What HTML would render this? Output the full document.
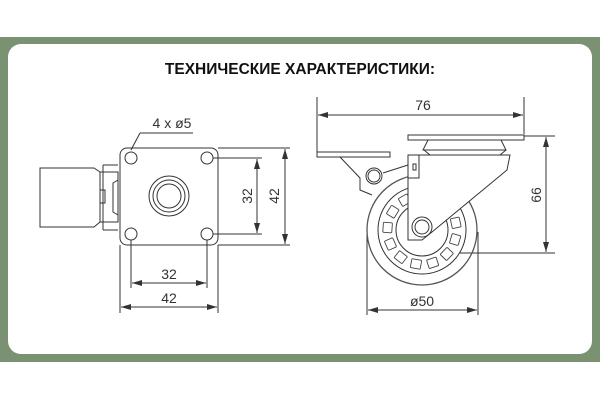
<!DOCTYPE html>
<html><head><meta charset="utf-8"><style>
html,body{margin:0;padding:0;background:#fff;}
#w{position:relative;width:600px;height:400px;overflow:hidden;background:#fff;}
#g{position:absolute;left:0;top:37px;width:600px;height:325px;background:#7a9272;}
#p{position:absolute;left:8px;top:44px;width:584px;height:310px;background:#fff;border-radius:13px;}
svg{position:absolute;left:0;top:0;}
</style></head><body><div id="w"><div id="g"></div><div id="p"></div>
<svg width="600" height="400" viewBox="0 0 600 400" font-family="'Liberation Sans', sans-serif">
<defs><marker id="a" viewBox="0 0 10 6" refX="10" refY="3" markerWidth="10" markerHeight="6" orient="auto-start-reverse" markerUnits="userSpaceOnUse"><path d="M0,0L10,3L0,6z" fill="#333"/></marker>
<rect id="pad" x="417" y="191" width="10" height="9" rx="1" fill="none" stroke="#444" stroke-width="0.9"/></defs>
<text x="300" y="74" text-anchor="middle" font-size="15.5" font-weight="bold" fill="#111">ТЕХНИЧЕСКИЕ ХАРАКТЕРИСТИКИ:</text>
<g fill="none" stroke="#333" stroke-width="1">
<rect x="120" y="148" width="98" height="97" rx="7"/>
<circle cx="131" cy="158" r="6"/><circle cx="207" cy="158" r="6"/><circle cx="131" cy="234" r="6"/><circle cx="207" cy="234" r="6"/>
<circle cx="169" cy="196" r="20"/><circle cx="169" cy="196" r="16"/><circle cx="169" cy="196" r="12"/>
<path d="M40,168 L94,168 L100,172 L100,222 L94,227 L40,227 Z"/>
<path d="M100,172 L118,172 L118,222 L100,222"/>
<path d="M103,165 L118,165 M103,230 L118,230 M103,165 L103,230"/>
<path d="M118,180 L113,183 L113,212 L118,215"/><rect x="100" y="190" width="5" height="13"/>
<path d="M140,133 L193,133 M140,133 L131,150"/>
<path d="M218,148 L290,148 M213,158 L262,158 M213,234 L262,234 M218,245 L290,245"/>
<path d="M131,240 L131,288 M207,240 L207,288 M120,245 L120,313 M218,245 L218,313"/>
</g>
<g stroke="#333" stroke-width="1">
<line x1="257" y1="159" x2="257" y2="233" marker-start="url(#a)" marker-end="url(#a)"/>
<line x1="285" y1="149" x2="285" y2="244" marker-start="url(#a)" marker-end="url(#a)"/>
<line x1="132" y1="283" x2="206" y2="283" marker-start="url(#a)" marker-end="url(#a)"/>
<line x1="121" y1="307" x2="217" y2="307" marker-start="url(#a)" marker-end="url(#a)"/>
<line x1="318" y1="115" x2="523" y2="115" marker-start="url(#a)" marker-end="url(#a)"/>
<line x1="546" y1="137" x2="546" y2="252" marker-start="url(#a)" marker-end="url(#a)"/>
<line x1="368" y1="310" x2="477" y2="310" marker-start="url(#a)" marker-end="url(#a)"/>
</g>
<g font-size="14" fill="#333">
<text x="172" y="128" text-anchor="middle">4 x ø5</text>
<text x="169" y="279" text-anchor="middle">32</text>
<text x="169" y="303" text-anchor="middle">42</text>
<text transform="translate(252,196) rotate(-90)" text-anchor="middle">32</text>
<text transform="translate(279,196) rotate(-90)" text-anchor="middle">42</text>
<text x="423" y="110" text-anchor="middle">76</text>
<text transform="translate(541,195) rotate(-90)" text-anchor="middle">66</text>
<text x="422" y="306" text-anchor="middle">ø50</text>
</g>
<g fill="none" stroke="#333" stroke-width="1">
<path d="M317,97 L317,152 M524,97 L524,134 M524,136 L555,136 M460,253 L555,253 M367,232 L367,315 M478,232 L478,315"/>
<circle cx="422" cy="230" r="55" stroke="#555" stroke-width="1.3"/>
<circle cx="422" cy="230" r="44"/>
<g>
<use href="#pad" transform="rotate(50 422 230)"/><use href="#pad" transform="rotate(78 422 230)"/>
<use href="#pad" transform="rotate(106 422 230)"/><use href="#pad" transform="rotate(134 422 230)"/>
<use href="#pad" transform="rotate(162 422 230)"/><use href="#pad" transform="rotate(190 422 230)"/>
<use href="#pad" transform="rotate(218 422 230)"/><use href="#pad" transform="rotate(246 422 230)"/>
<use href="#pad" transform="rotate(274 422 230)"/><use href="#pad" transform="rotate(302 422 230)"/>
<use href="#pad" transform="rotate(330 422 230)"/>
</g>
<circle cx="422" cy="230" r="26"/>
<path d="M408,155 L510,155 L507,170 L432,232 L422,240 L408,240 Z" fill="#fff"/>
<circle cx="422" cy="227" r="10" fill="#fff"/><circle cx="422" cy="227" r="7"/>
<rect x="408" y="135" width="116" height="5"/>
<path d="M428,140 L423,150 L506,150 L501,140"/>
<path d="M424,150 L430,155 L500,155 L506,150"/>
<rect x="317" y="152" width="73" height="5"/>
<path d="M340,157 L360,178 L360,190 L372,195 M383,173 L408,165"/>
<circle cx="374" cy="176" r="8"/><circle cx="374" cy="176" r="6"/>
<path d="M408,178 L419,178 L419,155"/>
<rect x="413" y="164" width="3" height="6"/>
</g>
</svg></div></body></html>
